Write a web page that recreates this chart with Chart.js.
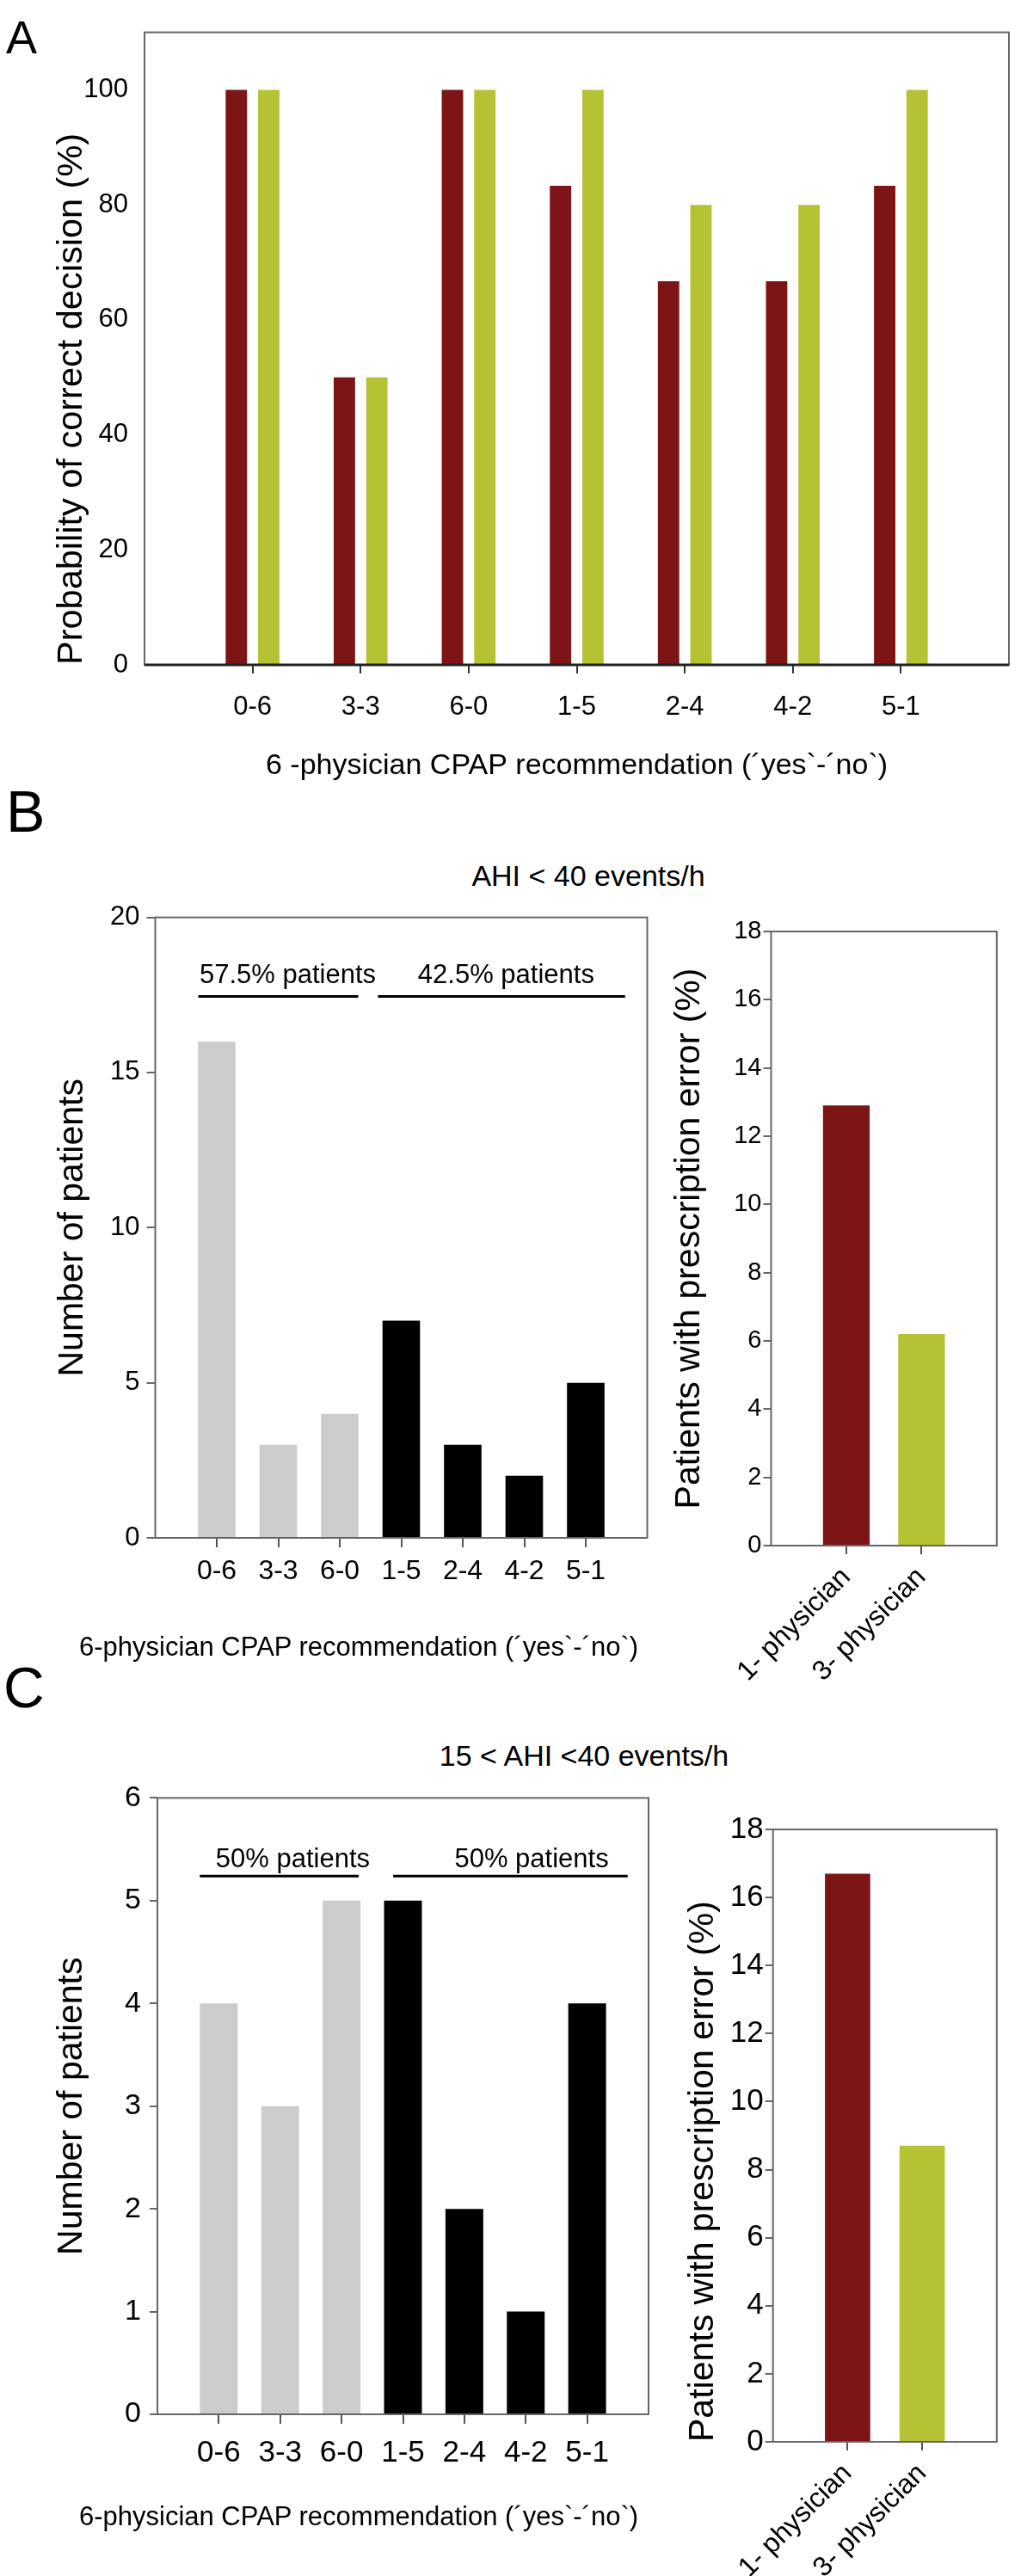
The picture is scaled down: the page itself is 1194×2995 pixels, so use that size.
<!DOCTYPE html>
<html>
<head>
<meta charset="utf-8">
<script src="https://cdn.jsdelivr.net/npm/chart.js@4.4.1/dist/chart.umd.min.js"></script>
<style>
  body { margin: 0; width: 1194px; height: 2995px; background: #fff; position: relative; overflow: hidden;
         font-family: "Liberation Sans", Arial, sans-serif; }
  .plot { position: absolute; }
  .txt { position: absolute; line-height: 1; color: #000; white-space: nowrap; }
</style>
</head>
<body>
<div class="plot" style="left:0;top:0;width:1194px;height:940px"><canvas id="chartA"></canvas></div>
<div class="plot" style="left:0;top:1040px;width:790px;height:860px"><canvas id="chartB1"></canvas></div>
<div class="plot" style="left:760px;top:1040px;width:434px;height:920px"><canvas id="chartB2"></canvas></div>
<div class="plot" style="left:0;top:2060px;width:790px;height:870px"><canvas id="chartC1"></canvas></div>
<div class="plot" style="left:760px;top:2080px;width:434px;height:915px"><canvas id="chartC2"></canvas></div>

<div class="txt" style="left:7px;top:16px;font-size:54px">A</div>
<div class="txt" style="left:7px;top:909px;font-size:68px">B</div>
<div class="txt" style="left:4px;top:1929px;font-size:66px">C</div>
<div class="txt" style="left:384px;top:1001px;width:600px;text-align:center;font-size:34px">AHI &lt; 40 events/h</div>
<div class="txt" style="left:379px;top:2024px;width:600px;text-align:center;font-size:34px">15 &lt; AHI &lt;40 events/h</div>
<div class="txt" style="left:17px;top:1899px;width:800px;text-align:center;font-size:31px">6-physician CPAP recommendation (´yes`-´no`)</div>
<div class="txt" style="left:17px;top:2910px;width:800px;text-align:center;font-size:31px">6-physician CPAP recommendation (´yes`-´no`)</div>

<script>
// 6-physician recommendation categories ('yes'-'no')
const recLabels = ['0-6', '3-3', '6-0', '1-5', '2-4', '4-2', '5-1'];

// A: probability of correct decision (%)
const onePhysicianCorrect = [100, 50, 100, 83.3, 66.7, 66.7, 83.3];
const threePhysicianCorrect = [100, 50, 100, 100, 80, 80, 100];

// B / C: number of patients per recommendation
const patientsAll = [16, 3, 4, 7, 3, 2, 5];
const patientsMid = [4, 3, 5, 5, 2, 1, 4];
const recGroup = [0, 0, 0, 1, 1, 1, 1];
const groupLabelsAll = ['57.5% patients', '42.5% patients'];
const groupLabelsMid = ['50% patients', '50% patients'];

// B / C: patients with prescription error (%)
const physLabels = ['1- physician', '3- physician'];
const errorAll = [12.9, 6.2];
const errorMid = [16.7, 8.7];

const MAROON = '#7d1416';
const GREEN = '#b5c234';
const groupColors = ['#cccccc', '#000000'];

Chart.defaults.font.family = '"Liberation Sans", Arial, sans-serif';
Chart.defaults.color = '#000';

// Draws the frame round the plot area.
const plotBox = {
  id: 'plotBox',
  afterDatasetsDraw(chart, args, opts) {
    const ctx = chart.ctx;
    const a = chart.chartArea;
    ctx.save();
    ctx.strokeStyle = opts.color || '#666';
    ctx.lineWidth = opts.width || 2;
    ctx.strokeRect(a.left, a.top, a.right - a.left, a.bottom - a.top);
    if (opts.bottomWidth) {
      ctx.strokeStyle = opts.bottomColor || '#222';
      ctx.lineWidth = opts.bottomWidth;
      ctx.beginPath();
      ctx.moveTo(a.left, a.bottom);
      ctx.lineTo(a.right, a.bottom);
      ctx.stroke();
    }
    ctx.restore();
  }
};

// Horizontal brackets with the share of patients above each group.
const groupBrackets = {
  id: 'groupBrackets',
  afterDatasetsDraw(chart, args, opts) {
    if (!opts.labels) return;
    const ctx = chart.ctx;
    const x = chart.scales.x, y = chart.scales.y;
    ctx.save();
    ctx.strokeStyle = '#000';
    ctx.lineWidth = 3;
    ctx.fillStyle = '#000';
    ctx.font = opts.font;
    ctx.textBaseline = 'alphabetic';
    const yl = y.getPixelForValue(opts.lineAt);
    opts.labels.forEach((txt, i) => {
      ctx.beginPath();
      ctx.moveTo(x.getPixelForValue(opts.from[i]), yl);
      ctx.lineTo(x.getPixelForValue(opts.to[i]), yl);
      ctx.stroke();
      ctx.fillText(txt, x.getPixelForValue(opts.textAt[i]), y.getPixelForValue(opts.textY));
    });
    ctx.restore();
  }
};

Chart.register(plotBox, groupBrackets);

function xy(values) {
  return values.map((v, i) => ({ x: i, y: v }));
}

function catTicks(labels) {
  return v => (labels[v] !== undefined ? labels[v] : '');
}

function edgeTickColor(labels, color) {
  return c => (c.tick && labels[c.tick.value] !== undefined ? color : 'rgba(0,0,0,0)');
}

// ---- A ----
new Chart(document.getElementById('chartA'), {
  type: 'bar',
  data: {
    datasets: [
      { data: xy(onePhysicianCorrect), backgroundColor: MAROON },
      { data: xy(threePhysicianCorrect), backgroundColor: GREEN }
    ]
  },
  options: {
    responsive: true, maintainAspectRatio: false, animation: false,
    layout: { padding: { top: 37, right: 2, left: 0, bottom: 0 } },
    datasets: { bar: { categoryPercentage: 0.6, barPercentage: 0.66 } },
    plugins: { legend: { display: false }, tooltip: { enabled: false },
      plotBox: { color: '#666', width: 2, bottomWidth: 3, bottomColor: '#222' } },
    scales: {
      x: {
        type: 'linear', min: -1, max: 7, offset: false,
        afterFit: s => { s.height = 167; },
        border: { display: false },
        grid: { offset: false, drawOnChartArea: false, tickLength: 10, lineWidth: 2, tickColor: edgeTickColor(recLabels, '#333') },
        ticks: { stepSize: 1, autoSkip: false, maxRotation: 0, padding: 21, font: { size: 31 }, callback: catTicks(recLabels) },
        title: { display: true, text: '6 -physician CPAP recommendation (´yes`-´no`)', font: { size: 34 }, padding: { top: 0, bottom: 29 } }
      },
      y: {
        min: 0, max: 110,
        afterFit: s => { s.width = 168; },
        border: { display: false },
        grid: { display: false, drawTicks: false },
        ticks: { stepSize: 20, padding: 19, font: { size: 31 }, callback: v => (v <= 100 ? v : '') },
        title: { display: true, text: 'Probability of correct decision (%)', align: 'start', font: { size: 41.5 }, padding: { top: 59, bottom: 0 } }
      }
    }
  }
});

// ---- patients-per-recommendation charts (B and C, left) ----
function patientsChart(id, values, yMax, labels, pad, axis, brackets) {
  return new Chart(document.getElementById(id), {
    type: 'bar',
    data: {
      datasets: [{ data: xy(values), backgroundColor: values.map((v, i) => groupColors[recGroup[i]]) }]
    },
    options: {
      responsive: true, maintainAspectRatio: false, animation: false,
      layout: { padding: pad },
      datasets: { bar: { categoryPercentage: 1, barPercentage: axis.bar } },
      plugins: { legend: { display: false }, tooltip: { enabled: false },
        plotBox: { color: '#666', width: 2 },
        groupBrackets: Object.assign({ labels: labels }, brackets) },
      scales: {
        x: {
          type: 'linear', min: -1, max: 7, offset: false,
          afterFit: s => { s.height = axis.xHeight; },
          border: { display: false },
          grid: { offset: false, drawOnChartArea: false, tickLength: 11, lineWidth: 2, tickColor: edgeTickColor(recLabels, '#555') },
          ticks: { stepSize: 1, autoSkip: false, maxRotation: 0, padding: axis.xPad, font: { size: axis.xFont }, callback: catTicks(recLabels) }
        },
        y: {
          min: 0, max: yMax,
          afterFit: s => { s.width = axis.yWidth; },
          border: { display: false },
          grid: { drawOnChartArea: false, tickLength: axis.tickLen, lineWidth: 2, color: '#666' },
          ticks: { stepSize: axis.step, padding: axis.yPad, font: { size: axis.yFont } },
          title: { display: true, text: 'Number of patients', font: { size: axis.titleFont }, padding: { top: axis.titlePad, bottom: 0 } }
        }
      }
    }
  });
}

// ---- prescription error charts (B and C, right) ----
function errorChart(id, values, pad, axis) {
  return new Chart(document.getElementById(id), {
    type: 'bar',
    data: {
      datasets: [{ data: xy(values), backgroundColor: [MAROON, GREEN] }]
    },
    options: {
      responsive: true, maintainAspectRatio: false, animation: false,
      layout: { padding: pad },
      datasets: { bar: { categoryPercentage: 1, barPercentage: axis.bar } },
      plugins: { legend: { display: false }, tooltip: { enabled: false },
        plotBox: { color: '#666', width: 2 } },
      scales: {
        x: {
          type: 'linear', min: -1, max: 2, offset: false,
          afterFit: s => { s.height = axis.xHeight; },
          border: { display: false },
          grid: { offset: false, drawOnChartArea: false, tickLength: 10, lineWidth: 2, tickColor: edgeTickColor(physLabels, '#555') },
          ticks: { stepSize: 1, autoSkip: false, minRotation: 45, maxRotation: 45, padding: 8, font: { size: 32 }, callback: catTicks(physLabels) }
        },
        y: {
          min: 0, max: 18,
          afterFit: s => { s.width = axis.yWidth; },
          border: { display: false },
          grid: { drawOnChartArea: false, tickLength: 9, lineWidth: 2, color: '#666' },
          ticks: { stepSize: 2, padding: 2, font: { size: axis.yFont } },
          title: { display: true, text: 'Patients with prescription error (%)', align: axis.titleAlign,
                   font: { size: axis.titleFont }, padding: { top: axis.titlePad, bottom: 0 } }
        }
      }
    }
  });
}

patientsChart('chartB1', patientsAll, 20, groupLabelsAll,
  { top: 12, right: 37.5, left: 0, bottom: 0 },
  { bar: 0.61, xHeight: 112, xPad: 9, xFont: 32, yWidth: 180.5, tickLen: 10, step: 5, yPad: 8, yFont: 31, titleFont: 41, titlePad: 60 },
  { font: '31px "Liberation Sans", Arial, sans-serif', lineAt: 17.45, from: [-0.3, 2.62], to: [2.3, 6.64], textAt: [-0.28, 3.27], textY: 17.88 });

errorChart('chartB2', errorAll,
  { top: 43, right: 31, left: 0, bottom: 0 },
  { bar: 0.62, xHeight: 163, yWidth: 136.5, yFont: 29, titleAlign: 'center', titleFont: 41, titlePad: 17 });

patientsChart('chartC1', patientsMid, 6, groupLabelsMid,
  { top: 13, right: 36, left: 0, bottom: 0 },
  { bar: 0.616, xHeight: 123, xPad: 13, xFont: 35, yWidth: 183, tickLen: 9, step: 1, yPad: 10, yFont: 34, titleFont: 41, titlePad: 59 },
  { font: '31px "Liberation Sans", Arial, sans-serif', lineAt: 5.24, from: [-0.31, 2.84], to: [2.28, 6.66], textAt: [-0.05, 3.84], textY: 5.325 });

errorChart('chartC2', errorMid,
  { top: 47, right: 31, left: 0, bottom: 0 },
  { bar: 0.607, xHeight: 156, yWidth: 138.7, yFont: 35, titleAlign: 'start', titleFont: 41, titlePad: 33 });
</script>
</body>
</html>
